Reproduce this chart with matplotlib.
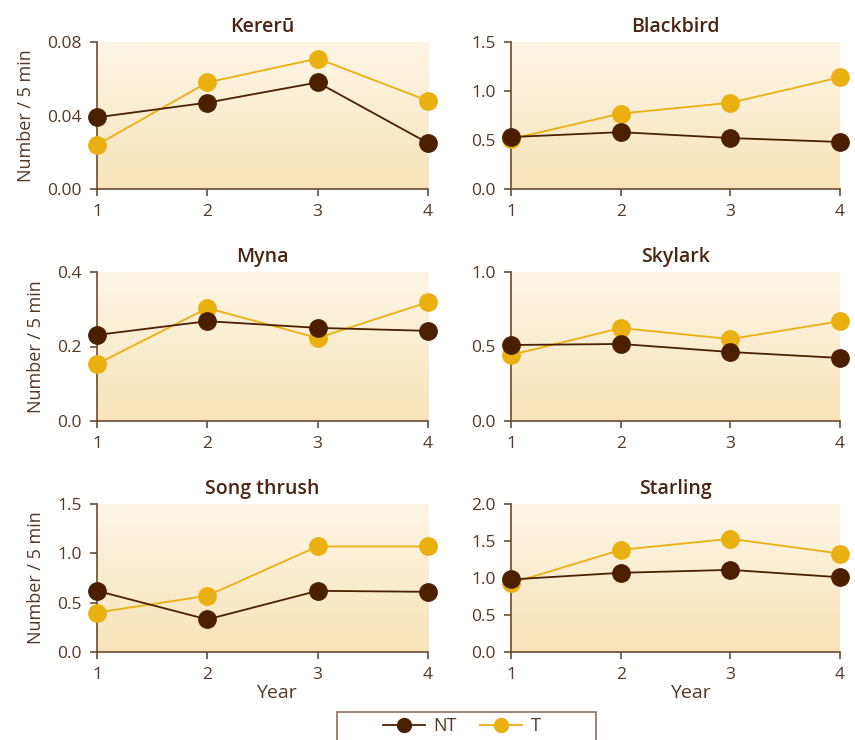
import matplotlib
matplotlib.use("Agg")
import matplotlib.pyplot as plt
import numpy as np
from matplotlib.patches import Rectangle
from matplotlib.lines import Line2D
from matplotlib.colors import LinearSegmentedColormap

plt.rcParams['font.family'] = ['Open Sans', 'DejaVu Sans']

years = [1, 2, 3, 4]
species = ["Kererū", "Blackbird", "Myna", "Skylark", "Song thrush", "Starling"]
nt_vals = {
    "Kererū":      [0.039, 0.047, 0.058, 0.025],
    "Blackbird":   [0.53, 0.58, 0.52, 0.48],
    "Myna":        [0.231, 0.268, 0.250, 0.242],
    "Skylark":     [0.51, 0.517, 0.463, 0.423],
    "Song thrush": [0.62, 0.33, 0.62, 0.61],
    "Starling":    [0.98, 1.07, 1.11, 1.01],
}
t_vals = {
    "Kererū":      [0.024, 0.058, 0.071, 0.048],
    "Blackbird":   [0.51, 0.77, 0.88, 1.14],
    "Myna":        [0.153, 0.303, 0.223, 0.319],
    "Skylark":     [0.443, 0.624, 0.55, 0.67],
    "Song thrush": [0.40, 0.57, 1.07, 1.07],
    "Starling":    [0.93, 1.38, 1.53, 1.33],
}
y_ticks = {
    "Kererū":      [0.0, 0.04, 0.08],
    "Blackbird":   [0.0, 0.5, 1.0, 1.5],
    "Myna":        [0.0, 0.2, 0.4],
    "Skylark":     [0.0, 0.5, 1.0],
    "Song thrush": [0.0, 0.5, 1.0, 1.5],
    "Starling":    [0.0, 0.5, 1.0, 1.5, 2.0],
}
y_fmt = {
    "Kererū": "{:.2f}", "Blackbird": "{:.1f}", "Myna": "{:.1f}",
    "Skylark": "{:.1f}", "Song thrush": "{:.1f}", "Starling": "{:.1f}",
}
series_labels = ["NT", "T"]

NT_COL = "#4a2000"
T_COL = "#eab010"
TXT = "#4a2511"
TICKTXT = "#553825"
SPINE = "#6b4a30"

W, H = 855, 740
fig = plt.figure(figsize=(W / 100, H / 100), dpi=100)

cols = [(97, 428), (511, 840)]
rows = [(42, 189), (272, 421), (504, 652)]

grad = np.linspace(0, 1, 256).reshape(-1, 1)
cmap = LinearSegmentedColormap.from_list("bg", ["#fdf6e6", "#f8e3b9"])

for i, sp in enumerate(species):
    r, c = divmod(i, 2)
    x0, x1 = cols[c]
    y0, y1 = rows[r]
    ax = fig.add_axes([x0 / W, 1 - y1 / H, (x1 - x0) / W, (y1 - y0) / H])
    ax.imshow(grad, extent=[0, 1, 0, 1], transform=ax.transAxes, cmap=cmap,
              aspect="auto", zorder=0, origin="upper")
    ax.set_facecolor("none")
    ax.plot(years, t_vals[sp], color=T_COL, lw=1.3, marker="o", ms=12.5,
            mec=T_COL, mfc=T_COL, clip_on=False, zorder=3)
    ax.plot(years, nt_vals[sp], color=NT_COL, lw=1.3, marker="o", ms=12.5,
            mec=NT_COL, mfc=NT_COL, clip_on=False, zorder=4)
    ax.set_xlim(1, 4)
    yt = y_ticks[sp]
    ax.set_ylim(0, yt[-1])
    ax.set_yticks(yt)
    ax.set_yticklabels([y_fmt[sp].format(v) for v in yt])
    ax.set_xticks(years)
    ax.set_xticklabels([str(y) for y in years])
    for s in ["top", "right"]:
        ax.spines[s].set_visible(False)
    for s in ["left", "bottom"]:
        ax.spines[s].set_color(SPINE)
        ax.spines[s].set_linewidth(1.2)
    ax.tick_params(colors=SPINE, labelcolor=TICKTXT, labelsize=12.5, length=5,
                   width=1.2, direction="out", pad=6)
    ax.set_title(sp, fontsize=14, color=TXT, fontweight="semibold", pad=7)
    if c == 0:
        ax.set_ylabel("Number / 5 min", fontsize=13, color=TICKTXT, labelpad=9)

fig.text(276 / W, 1 - 693 / H, "Year", ha="center", va="center", fontsize=14, color=TICKTXT)
fig.text(690 / W, 1 - 693 / H, "Year", ha="center", va="center", fontsize=14, color=TICKTXT)

fig.patches.append(Rectangle((337 / W, -0.02), (596 - 337) / W, 0.02 + 1 - 712 / H,
                             transform=fig.transFigure, fill=False,
                             edgecolor="#8a7060", lw=1.2))
handles = [
    Line2D([], [], color=NT_COL, lw=1.3, marker="o", ms=10, mfc=NT_COL, mec=NT_COL),
    Line2D([], [], color=T_COL, lw=1.3, marker="o", ms=10, mfc=T_COL, mec=T_COL),
]
leg = fig.legend(handles, series_labels, loc="center", bbox_to_anchor=(462 / W, 1 - 726 / H),
                 ncol=2, frameon=False, fontsize=13, handlelength=2.3,
                 columnspacing=1.3, handletextpad=0.5)
for t in leg.get_texts():
    t.set_color(TICKTXT)

fig.savefig("out.png", dpi=100)
